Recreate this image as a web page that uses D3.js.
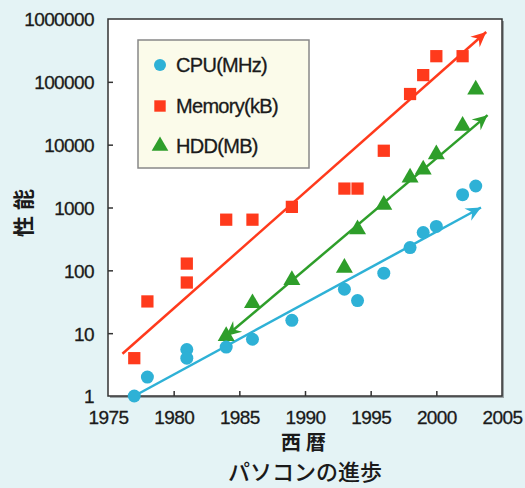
<!DOCTYPE html>
<html><head><meta charset="utf-8">
<script src="https://cdn.jsdelivr.net/npm/d3@7"></script>
<style>
html,body{margin:0;padding:0;background:#e4f3f5;}
svg{display:block;}
text{font-family:"Liberation Sans","Noto Sans CJK JP",Arial,sans-serif;fill:#1a1a1a;}
</style></head>
<body>
<svg id="chart" width="525" height="488"></svg>
<script>
// ---- data ----
const cpuYears = [1977,1978,1981,1981,1984,1986,1989,1993,1994,1996,1998,1999,2000,2002,2003];
const cpuValues = [1,2,5.5,4,6,8,16,50,33,90,230,400,500,1600,2200];
const memYears = [1977,1978,1981,1981,1984,1986,1989,1993,1994,1996,1998,1999,2000,2002];
const memValues = [4,32,64,128,640,640,1024,2000,2000,8000,64000,128000,256000,256000];
const hddYears = [1984,1986,1989,1993,1994,1996,1998,1999,2000,2002,2003];
const hddValues = [9,30,70,110,450,1100,3000,4000,7000,20000,75000];
const cpuTrend = [[1977,1],[2003.4,1000]];
const memTrend = [[1976.1,4.7],[2003.8,620000]];
const hddTrend = [[1984,9],[2003.9,29500]];
const xTicks = [1975,1980,1985,1990,1995,2000,2005];
const yTicks = [1,10,100,1000,10000,100000,1000000];
const seriesNames = ["CPU(MHz)","Memory(kB)","HDD(MB)"];
const xTitle = "西暦";
const yTitle = "性能";
const caption = "パソコンの進歩";

const colors = {cpu:"#2eb1d6", mem:"#ff3a1c", hdd:"#2e9e2a"};

const svg = d3.select("#chart");
const L=108, T=19, R=502, B=396;
const x = d3.scaleLinear().domain([1975,2005]).range([L,R]);
const y = d3.scaleLog().domain([1,1e6]).range([B,T]);

// plot area
svg.append("rect").attr("x",L+2).attr("y",T+2).attr("width",R-L).attr("height",B-T).attr("fill","#9aa3a5");
svg.append("rect").attr("x",L).attr("y",T).attr("width",R-L).attr("height",B-T).attr("fill","#fff").attr("stroke","#333").attr("stroke-width",1.5);

// axes
const xAxis = d3.axisBottom(x).tickValues(xTicks).tickFormat(d3.format("d")).tickSizeInner(-5).tickSizeOuter(0).tickPadding(12);
const gx = svg.append("g").attr("transform",`translate(0,${B})`).call(xAxis);
const yAxis = d3.axisLeft(y).tickValues(yTicks).tickFormat(d3.format("d")).tickSizeInner(-5).tickSizeOuter(0).tickPadding(14);
const gy = svg.append("g").attr("transform",`translate(${L},0)`).call(yAxis);
[gx,gy].forEach(g=>{
  g.select(".domain").remove();
  g.selectAll(".tick line").attr("stroke","#333").attr("stroke-width",1.5);
  g.selectAll(".tick text").attr("font-size",19).attr("fill","#1a1a1a").attr("letter-spacing","-0.6px")
    .attr("stroke","#1a1a1a").attr("stroke-width",0.3);
});
gy.selectAll(".tick text").attr("dy","0.36em");
gx.selectAll(".tick text").attr("dy","0.85em");
gx.selectAll(".tick").filter(d=>d===1975||d===2005).select("line").remove();
gy.selectAll(".tick").filter(d=>d===1||d===1e6).select("line").remove();

// arrow markers
const defs = svg.append("defs");
function mk(id,color){
  defs.append("marker").attr("id",id).attr("viewBox","-16 -8 18 16")
    .attr("refX",0).attr("refY",0).attr("markerWidth",18).attr("markerHeight",16)
    .attr("markerUnits","userSpaceOnUse").attr("orient","auto-start-reverse")
    .append("path").attr("d","M0,0 L-15,-7 L-10,0 L-15,7 Z").attr("fill",color);
}
mk("aCpu",colors.cpu); mk("aMem",colors.mem); mk("aHdd",colors.hdd);

const line = d3.line().x(d=>x(d[0])).y(d=>y(d[1]));
svg.append("path").datum(memTrend).attr("d",line).attr("stroke",colors.mem).attr("stroke-width",2.5).attr("fill","none").attr("marker-end","url(#aMem)");
svg.append("path").datum(hddTrend).attr("d",line).attr("stroke",colors.hdd).attr("stroke-width",2.5).attr("fill","none").attr("marker-end","url(#aHdd)").attr("marker-start","url(#aHdd)");
svg.append("path").datum(cpuTrend).attr("d",line).attr("stroke",colors.cpu).attr("stroke-width",2.5).attr("fill","none").attr("marker-end","url(#aCpu)");

// points
const memPts = memYears.map((d,i)=>[d,memValues[i]]);
const hddPts = hddYears.map((d,i)=>[d,hddValues[i]]);
const cpuPts = cpuYears.map((d,i)=>[d,cpuValues[i]]);
const sq = d3.symbol().type(d3.symbolSquare).size(150);
const tri = d3.symbol().type(d3.symbolTriangle).size(125);
svg.append("g").selectAll("path").data(memPts).join("path")
  .attr("d",sq).attr("transform",d=>`translate(${x(d[0])},${y(d[1])})`).attr("fill",colors.mem);
svg.append("g").selectAll("path").data(hddPts).join("path")
  .attr("d",tri).attr("transform",d=>`translate(${x(d[0])},${y(d[1])})`).attr("fill",colors.hdd);
svg.append("g").selectAll("circle").data(cpuPts).join("circle")
  .attr("cx",d=>x(d[0])).attr("cy",d=>y(d[1])).attr("r",6.5).attr("fill",colors.cpu);

// legend
const lg = svg.append("g");
lg.append("rect").attr("x",138).attr("y",40).attr("width",171).attr("height",128).attr("fill","#fbfbea").attr("stroke","#888").attr("stroke-width",1.5);
const legY = [65,106,146];
lg.append("circle").attr("cx",160).attr("cy",legY[0]).attr("r",6).attr("fill",colors.cpu);
lg.append("path").attr("d",d3.symbol().type(d3.symbolSquare).size(130)).attr("transform",`translate(160,${legY[1]})`).attr("fill",colors.mem);
lg.append("path").attr("d",d3.symbol().type(d3.symbolTriangle).size(120)).attr("transform",`translate(160,${legY[2]})`).attr("fill",colors.hdd);
seriesNames.forEach((n,i)=>{
  lg.append("text").attr("x",176).attr("y",legY[i]).attr("dy","0.36em").attr("font-size",20).attr("letter-spacing","-0.7px")
    .attr("stroke","#1a1a1a").attr("stroke-width",0.3).text(n);
});

// titles
svg.append("text").attr("x",306).attr("y",450).attr("text-anchor","middle").attr("font-size",20).attr("font-weight","bold")
  .attr("letter-spacing","5px").style("font-family","'Noto Sans CJK JP',sans-serif").text(xTitle);
svg.append("text").attr("x",305).attr("y",480).attr("text-anchor","middle").attr("font-size",22)
  .style("font-family","'Noto Sans CJK JP',sans-serif").attr("font-weight","500").text(caption);
svg.append("text").attr("transform","translate(31,210) rotate(-90)").attr("text-anchor","middle").attr("font-size",21).attr("font-weight","bold")
  .attr("letter-spacing","6px").style("font-family","'Noto Sans CJK JP',sans-serif").text(yTitle);
</script>
</body></html>
